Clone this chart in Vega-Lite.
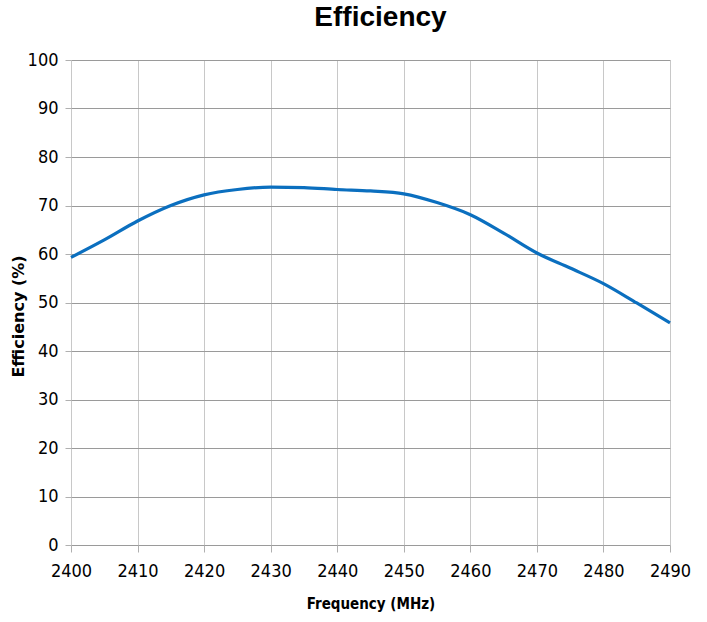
{
  "$schema": "https://vega.github.io/schema/vega-lite/v6.json",
  "autosize": "none",
  "width": 599,
  "height": 485,
  "padding": {"left": 71, "top": 60, "right": 37, "bottom": 77},
  "background": "white",
  "title": {
    "text": "Efficiency",
    "font": "Liberation Sans",
    "fontSize": 28,
    "fontWeight": "bold",
    "color": "#000000",
    "offset": 19,
    "dx": 10
  },
  "config": {
    "view": {"stroke": null},
    "axis": {
      "labelFont": "DejaVu Sans Condensed, Liberation Sans, sans-serif",
      "labelFontSize": 18,
      "labelColor": "#000000",
      "titleColor": "#000000",
      "domain": false,
      "tickColor": "#b0b0b0",
      "gridColor": "#c8c8c8",
      "gridWidth": 1
    }
  },
  "data": {
    "values": [
      {"freq": 2400, "eff": 59.3},
      {"freq": 2405, "eff": 62.9},
      {"freq": 2410, "eff": 66.8},
      {"freq": 2415, "eff": 70.0},
      {"freq": 2420, "eff": 72.2},
      {"freq": 2425, "eff": 73.3},
      {"freq": 2430, "eff": 73.8},
      {"freq": 2435, "eff": 73.7},
      {"freq": 2440, "eff": 73.3},
      {"freq": 2445, "eff": 73.0},
      {"freq": 2450, "eff": 72.4},
      {"freq": 2455, "eff": 70.6},
      {"freq": 2460, "eff": 68.1},
      {"freq": 2465, "eff": 64.3},
      {"freq": 2470, "eff": 60.2},
      {"freq": 2475, "eff": 57.1},
      {"freq": 2480, "eff": 53.9},
      {"freq": 2485, "eff": 49.9},
      {"freq": 2490, "eff": 45.8}
    ]
  },
  "mark": {"type": "line", "interpolate": "monotone", "color": "#0b6fbf", "strokeWidth": 3.2},
  "encoding": {
    "x": {
      "field": "freq",
      "type": "quantitative",
      "scale": {"domain": [2400, 2490], "nice": false, "zero": false},
      "axis": {
        "values": [2400, 2410, 2420, 2430, 2440, 2450, 2460, 2470, 2480, 2490],
        "format": "d",
        "labelFlush": false,
        "labelFontSize": 18,
        "title": "Frequency (MHz)",
        "titleFont": "DejaVu Sans Condensed, Liberation Sans, sans-serif",
        "titleFontSize": 15,
        "titleFontWeight": "bold",
        "titlePadding": 16,
        "tickSize": 7,
        "labelPadding": 10,
        "gridColor": "#c8c8c8"
      }
    },
    "y": {
      "field": "eff",
      "type": "quantitative",
      "scale": {"domain": [0, 100], "nice": false},
      "axis": {
        "values": [0, 10, 20, 30, 40, 50, 60, 70, 80, 90, 100],
        "labelFlush": false,
        "title": "Efficiency (%)",
        "titleFont": "DejaVu Sans",
        "titleFontSize": 16,
        "titleFontWeight": "bold",
        "titlePadding": 1,
        "titleY": 256,
        "tickSize": 6,
        "labelPadding": 7,
        "gridColor": "#9a9a9a"
      }
    }
  }
}
